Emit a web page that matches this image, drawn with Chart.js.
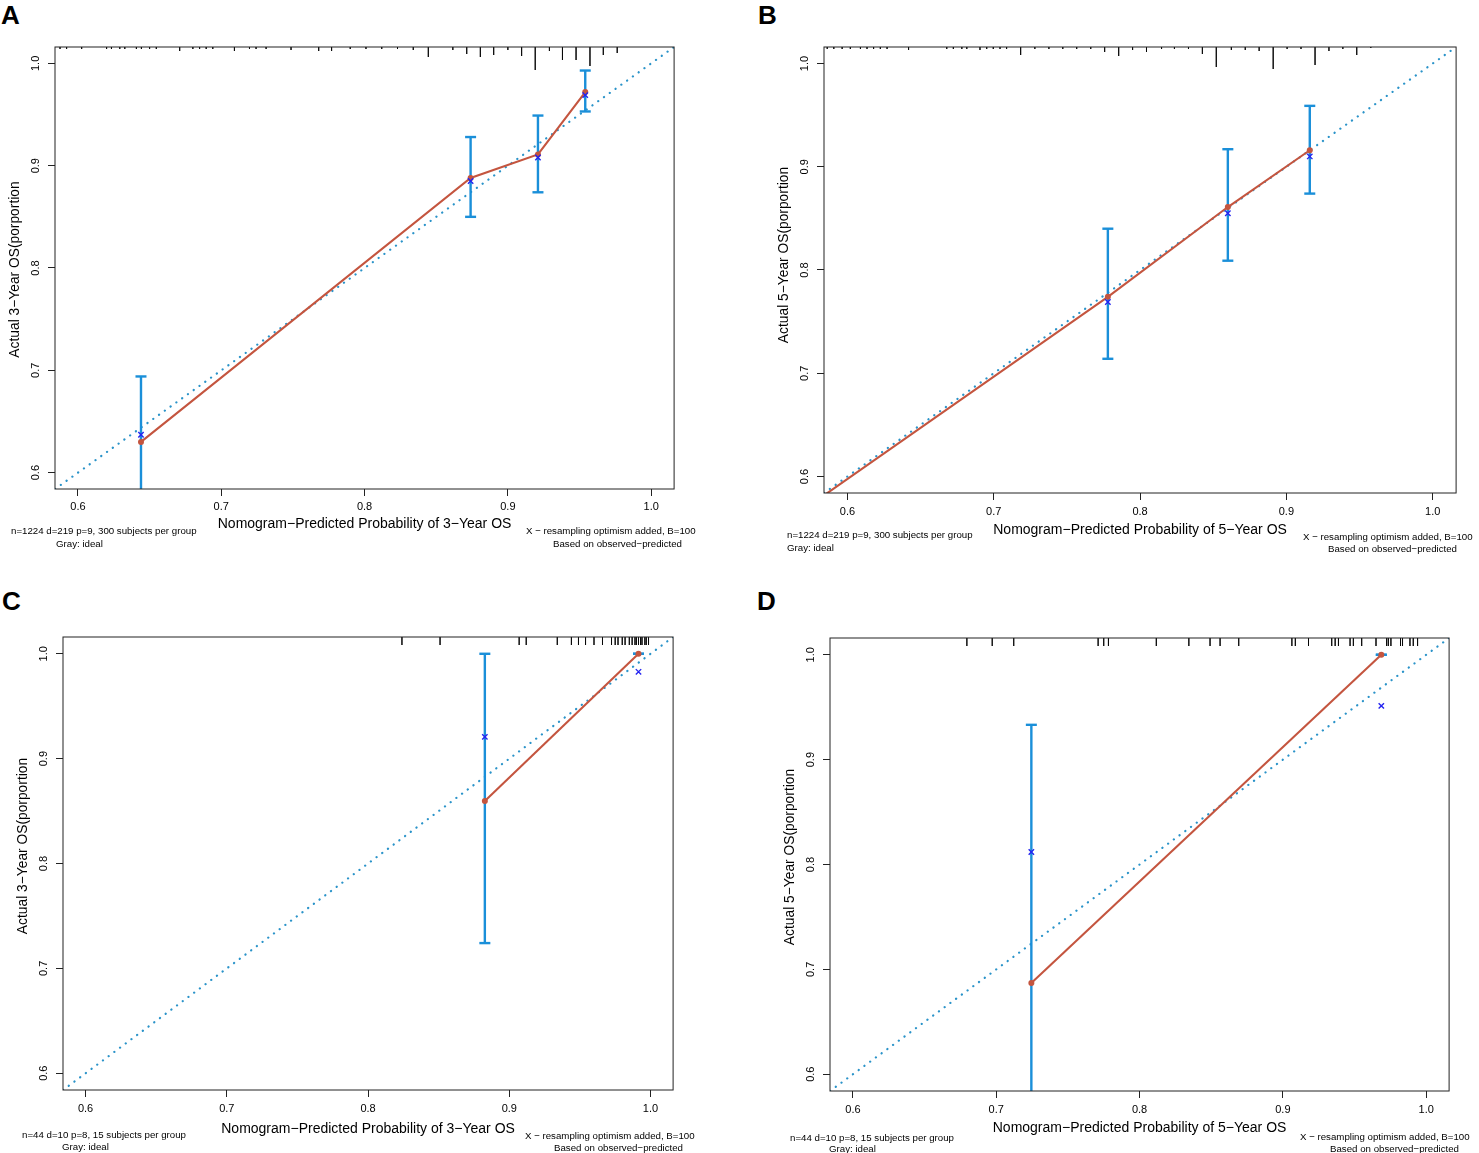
<!DOCTYPE html>
<html><head><meta charset="utf-8">
<script src="https://cdn.jsdelivr.net/npm/chart.js@4.4.1/dist/chart.umd.min.js"></script>
<style>
html,body{margin:0;padding:0;background:#fff;}
body{width:1479px;height:1153px;position:relative;overflow:hidden;font-family:"Liberation Sans",Arial,sans-serif;}
canvas{position:absolute;}
.lbl{position:absolute;font-weight:bold;font-size:26px;line-height:26px;color:#000;z-index:5;}
.note{position:absolute;font-size:9.7px;line-height:10px;white-space:nowrap;color:#000;z-index:5;}
</style></head><body>
<script>
// ---------------- data ----------------
const axisLimits = [0.584, 1.016];
const tickValues = [0.6, 0.7, 0.8, 0.9, 1.0];
const tickLabels = ['0.6', '0.7', '0.8', '0.9', '1.0'];

// Panel A : 3-year OS, training cohort
const predA = [0.644, 0.874, 0.921, 0.954];
const obsA  = [0.630, 0.888, 0.911, 0.972];
const corrA = [0.637, 0.885, 0.908, 0.969];
const loA   = [0.565, 0.850, 0.874, 0.953];
const hiA   = [0.694, 0.928, 0.949, 0.993];
const rugXA = [0.5875,0.5921,0.6026,0.620,0.6234,0.6292,0.6327,0.6408,0.6443,0.650,0.6547,0.671,0.6802,0.6849,0.6895,0.6941,0.7092,0.7197,0.7243,0.7313,0.7487,0.768,0.777,0.790,0.801,0.812,0.823,0.834,0.8445,0.8616,0.8713,0.8808,0.8901,0.900,0.9096,0.9191,0.929,0.9381,0.9476,0.9573,0.9666,0.9763];
const rugHA = [2,2,2,2,2,2,2,2,2,2,2,4,2,2,2,2,4,2,2,2,3,4,4,2,2,2,2,3,10,3,7,10,8,3,9,23,4,13,13,19,8,6];

// Panel B : 5-year OS, training cohort
const predB = [0.550, 0.778, 0.860, 0.916];
const obsB  = [0.548, 0.774, 0.861, 0.916];
const corrB = [0.540, 0.769, 0.855, 0.910];
const loB   = [0.450, 0.714, 0.809, 0.874];
const hiB   = [0.570, 0.840, 0.917, 0.959];
const rugXB = [0.5862,0.5907,0.5964,0.602,0.6089,0.6134,0.6179,0.6225,0.6271,0.6418,0.6679,0.6724,0.6782,0.6816,0.6906,0.6952,0.6997,0.7043,0.7088,0.7184,0.7281,0.7377,0.7472,0.7567,0.7663,0.7758,0.7854,0.7949,0.8044,0.8147,0.8235,0.8331,0.8426,0.8521,0.8624,0.8719,0.8814,0.891,0.9005,0.91,0.9196,0.9291,0.9386,0.9481,0.9577];
const rugHB = [2,2,2,2,2,2,2,2,2,3,2,2,2,2,3,2,2,2,2,8,2,2,2,2,2,5,9,3,5,2,2,2,7,20,3,3,4,22,2,2,18,4,2,8,1];

// Panel C : 3-year OS, validation cohort
const predC = [0.8827, 0.9915];
const obsC  = [0.8597, 1.000];
const corrC = [0.9208, 0.9828];
const loC   = [0.7241, 1.000];
const hiC   = [1.000, 1.000];
const rugXC = [0.824,0.851,0.907,0.912,0.934,0.944,0.949,0.954,0.960,0.966,0.9724,0.975,0.977,0.980,0.982,0.985,0.987,0.989,0.990,0.9915,0.993,0.994,0.996,0.997,0.9986];
const rugHC = [8,8,8,8,8,8,8,8,8,8,8,8,8,8,8,8,8,8,8,8,8,8,8,8,8];

// Panel D : 5-year OS, validation cohort
const predD = [0.7245, 0.9687];
const obsD  = [0.6869, 1.000];
const corrD = [0.8119, 0.9513];
const loD   = [0.550, 1.000];
const hiD   = [0.9332, 1.000];
const rugXD = [0.6795,0.6972,0.7122,0.7711,0.7750,0.7783,0.8117,0.8344,0.8492,0.8562,0.8692,0.9063,0.9087,0.9179,0.9341,0.9365,0.9388,0.9469,0.9492,0.9550,0.9650,0.9724,0.9736,0.9754,0.9821,0.9835,0.9887,0.9910,0.9940];
const rugHD = [8,8,8,8,8,8,8,8,8,8,8,8,8,8,8,8,8,8,8,8,8,8,8,8,8,8,8,8,8];

// ---------------- text + layout ----------------
const panels = [
  {letter:'A', pred:predA, obs:obsA, corr:corrA, lo:loA, hi:hiA, rugX:rugXA, rugH:rugHA,
   xTitle:'Nomogram\u2212Predicted Probability of 3\u2212Year OS', yTitle:'Actual 3\u2212Year OS(porportion',
   notes:['n=1224 d=219 p=9, 300 subjects per group','Gray: ideal','X \u2212 resampling optimism added, B=100','Based on observed\u2212predicted'],
   geo:{L:55, R:676, T:47, B:489, tickPad:4.4, H:43.4, yTitleCY:269.5},
   letterPos:[1,1.6], notePos:[[11,531],[56,544],[526,531],[553,544]]},
  {letter:'B', pred:predB, obs:obsB, corr:corrB, lo:loB, hi:hiB, rugX:rugXB, rugH:rugHB,
   xTitle:'Nomogram\u2212Predicted Probability of 5\u2212Year OS', yTitle:'Actual 5\u2212Year OS(porportion',
   notes:['n=1224 d=219 p=9, 300 subjects per group','Gray: ideal','X \u2212 resampling optimism added, B=100','Based on observed\u2212predicted'],
   geo:{L:823.5, R:1457.5, T:47, B:493, tickPad:5.4, H:45.4, yTitleCY:255},
   letterPos:[758,1.6], notePos:[[787,535],[787,548],[1303,537],[1328,549]]},
  {letter:'C', pred:predC, obs:obsC, corr:corrC, lo:loC, hi:hiC, rugX:rugXC, rugH:rugHC,
   xTitle:'Nomogram\u2212Predicted Probability of 3\u2212Year OS', yTitle:'Actual 3\u2212Year OS(porportion',
   notes:['n=44 d=10 p=8, 15 subjects per group','Gray: ideal','X \u2212 resampling optimism added, B=100','Based on observed\u2212predicted'],
   geo:{L:63, R:675, T:637, B:1090, tickPad:5.4, H:47.4, yTitleCY:846},
   letterPos:[2,587.6], notePos:[[22,1135],[62,1147],[525,1136],[554,1148]]},
  {letter:'D', pred:predD, obs:obsD, corr:corrD, lo:loD, hi:hiD, rugX:rugXD, rugH:rugHD,
   xTitle:'Nomogram\u2212Predicted Probability of 5\u2212Year OS', yTitle:'Actual 5\u2212Year OS(porportion',
   notes:['n=44 d=10 p=8, 15 subjects per group','Gray: ideal','X \u2212 resampling optimism added, B=100','Based on observed\u2212predicted'],
   geo:{L:830, R:1451, T:638, B:1091, tickPad:5.4, H:45.4, yTitleCY:857},
   letterPos:[757,587.6], notePos:[[790,1138],[829,1149],[1300,1137],[1330,1149]]}
];

// ---------------- styles ----------------
const FONT = '"Liberation Sans", Arial, sans-serif';
const RED = '#c4553f';
const ERRBLUE = '#1a8fd9';
const XBLUE = '#2424f0';
const IDEAL = '#2a93c9';

const framePlugin = {
  id: 'frame',
  afterDraw(chart, args, opts) {
    const {ctx, chartArea: a, scales} = chart;
    ctx.save();
    ctx.strokeStyle = '#222';
    ctx.lineWidth = 1;
    ctx.strokeRect(a.left, a.top, a.right - a.left, a.bottom - a.top);
    // rotated y tick labels (R style)
    const ys = scales.y;
    ctx.fillStyle = '#000';
    ctx.font = '11px ' + FONT;
    ctx.textAlign = 'center';
    ctx.textBaseline = 'middle';
    ys.ticks.forEach((t, i) => {
      const py = ys.getPixelForValue(t.value);
      ctx.save();
      ctx.translate(a.left - 19.5, py);
      ctx.rotate(-Math.PI / 2);
      ctx.fillText(tickLabels[i], 0, 0);
      ctx.restore();
    });
    // y axis title
    ctx.font = '13.8px ' + FONT;
    ctx.save();
    ctx.translate(a.left - 40, opts.titleY - opts.canvasTop);
    ctx.rotate(-Math.PI / 2);
    ctx.fillText(opts.yTitle, 0, 0);
    ctx.restore();
    ctx.restore();
  }
};

function makePanel(p) {
  const g = p.geo;
  const padL = 5, padT = 10, padR = 6, padB = 4, yW = 55;
  const left = g.L - padL - yW, top = g.T - padT;
  const width = Math.round(g.R + padR - left), height = Math.round(g.B + g.H + padB - top);
  const cv = document.createElement('canvas');
  cv.width = width; cv.height = height;
  cv.style.left = left + 'px'; cv.style.top = top + 'px';
  cv.style.width = width + 'px'; cv.style.height = height + 'px';
  document.body.appendChild(cv);

  const realPadR = width - (g.R - left);
  const realPadB = height - (g.B + g.H - top);

  const k = (axisLimits[1] - axisLimits[0]) / (g.B - g.T);
  const rugData = [];
  p.rugX.forEach((x, i) => {
    rugData.push({x, y: axisLimits[1]}, {x, y: axisLimits[1] - p.rugH[i] * k}, {x, y: null});
  });
  const errData = [];
  p.pred.forEach((x, i) => {
    errData.push({x, y: p.lo[i]}, {x, y: p.hi[i]}, {x, y: null});
  });
  const obsData = p.pred.map((x, i) => ({x, y: p.obs[i]}));
  const corrData = p.pred.map((x, i) => ({x, y: p.corr[i]}));
  const idealData = [{x: axisLimits[0], y: axisLimits[0]}, {x: axisLimits[1], y: axisLimits[1]}];

  new Chart(cv, {
    type: 'scatter',
    data: {
      datasets: [
        {label:'corrected', data: corrData, showLine:false, pointStyle:'crossRot', pointRadius:3.8,
         pointBorderColor: XBLUE, pointBackgroundColor: XBLUE, pointBorderWidth:1.4, clip:0},
        {label:'apparent', data: obsData, showLine:true, borderColor: RED, borderWidth:2.1,
         pointRadius:3, pointBackgroundColor: RED, pointBorderColor: RED, pointBorderWidth:0, clip:0},
        {label:'err', data: errData, showLine:true, spanGaps:false, borderColor: ERRBLUE, borderWidth:2.4,
         pointStyle:'line', pointRadius:5.5, pointBorderColor: ERRBLUE, pointBorderWidth:2.4, clip:0},
        {label:'ideal', data: idealData, showLine:true, borderColor: IDEAL, borderWidth:2.2,
         borderDash:[0.1, 7], borderCapStyle:'round', pointRadius:0, clip:0},
        {label:'rug', data: rugData, showLine:true, spanGaps:false, borderColor:'rgba(0,0,0,0.72)',
         borderWidth:1, pointRadius:0, clip:0}
      ]
    },
    options: {
      responsive:false, animation:false, events:[],
      layout:{padding:{left:padL, top:padT, right:realPadR, bottom:realPadB}},
      plugins:{legend:{display:false}, tooltip:{enabled:false},
               frame:{yTitle:p.yTitle, titleY:g.yTitleCY, canvasTop:top}},
      scales:{
        x:{type:'linear', position:'bottom', min:axisLimits[0], max:axisLimits[1],
           afterBuildTicks(s){ s.ticks = tickValues.map(v => ({value:v})); },
           afterFit(s){ s.height = g.H; },
           grid:{display:true, drawOnChartArea:false, drawTicks:true, tickLength:7, tickColor:'#222', tickWidth:1},
           border:{display:false},
           ticks:{padding:g.tickPad, color:'#000', font:{family:FONT, size:11}, maxRotation:0, minRotation:0,
                  callback:(v, i) => tickLabels[i]},
           title:{display:true, text:p.xTitle, color:'#000', font:{family:FONT, size:14}, padding:{top:0, bottom:0}}},
        y:{type:'linear', position:'left', min:axisLimits[0], max:axisLimits[1],
           afterBuildTicks(s){ s.ticks = tickValues.map(v => ({value:v})); },
           afterFit(s){ s.width = yW; },
           grid:{display:true, drawOnChartArea:false, drawTicks:true, tickLength:7, tickColor:'#222', tickWidth:1},
           border:{display:false},
           ticks:{display:false},
           title:{display:false}}
      }
    },
    plugins:[framePlugin]
  });

  const L = document.createElement('div');
  L.className = 'lbl'; L.textContent = p.letter;
  L.style.left = p.letterPos[0] + 'px'; L.style.top = p.letterPos[1] + 'px';
  document.body.appendChild(L);
  p.notes.forEach((t, i) => {
    const d = document.createElement('div');
    d.className = 'note'; d.textContent = t;
    d.style.left = p.notePos[i][0] + 'px'; d.style.top = (p.notePos[i][1] - 5) + 'px';
    document.body.appendChild(d);
  });
}

panels.forEach(makePanel);
</script>
</body></html>
